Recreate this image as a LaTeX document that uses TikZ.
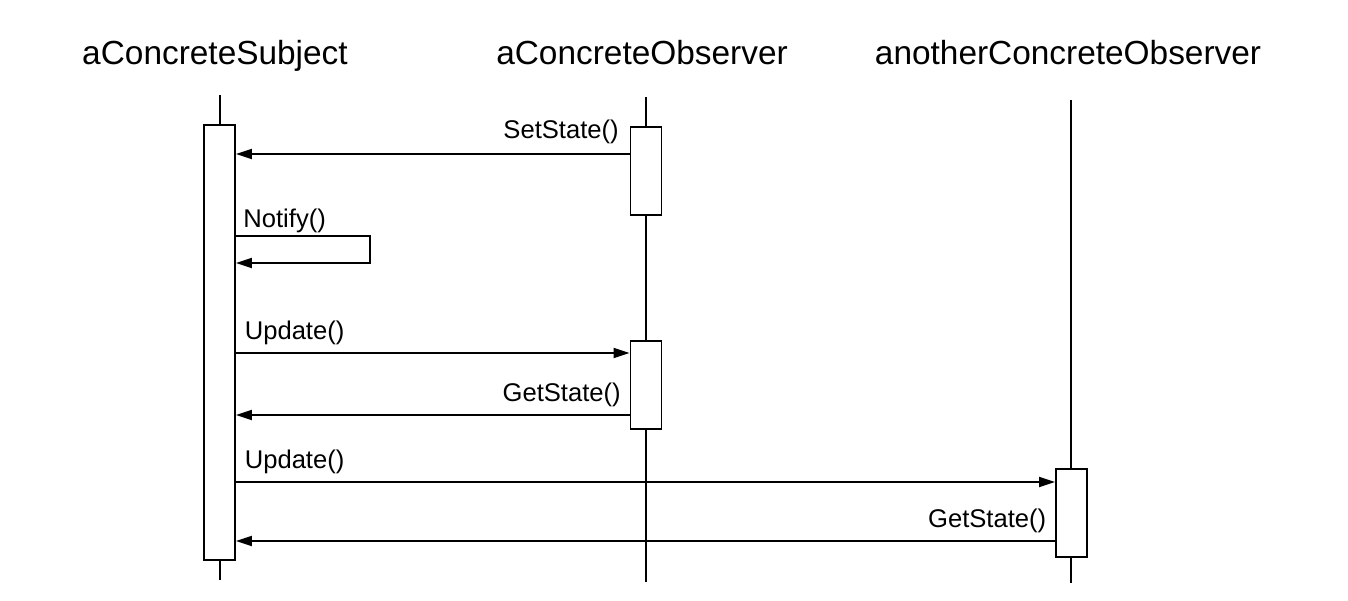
\documentclass[tikz,border=0pt]{standalone}
\usepackage{fontspec}
\setmainfont{Liberation Sans}
\usetikzlibrary{arrows.meta}

\tikzset{
	head/.style={font=\fontsize{16.7}{20}\selectfont, inner sep=0pt, anchor=base},
	lbl/.style={font=\fontsize{12.8}{15}\selectfont, inner sep=0pt},
	life/.style={line width=0.9pt},
	act/.style={draw, fill=white, line width=0.9pt, minimum width=15.5pt, inner sep=0pt},
	msg/.style={line width=0.9pt, -{Triangle[length=8pt,width=5pt]}}
}

\begin{document}
\begin{tikzpicture}[x=0.5pt, y=-0.5pt]
	\useasboundingbox (0,0) rectangle (1348,600);
	% objects
	\node[head] (HS) at (215, 64) {aConcreteSubject};
	\node[head] (HO) at (642, 64) {aConcreteObserver};
	\node[head] (HA) at (1068, 64) {anotherConcreteObserver};
	% lifelines
	\coordinate (ST) at (220, 95);  \coordinate (SB) at (220, 580);
	\coordinate (OT) at (646, 97);  \coordinate (OB) at (646, 582);
	\coordinate (AT) at (1071, 100); \coordinate (AB) at (1071, 583);
	\draw[life] (ST) -- (SB);
	\draw[life] (OT) -- (OB);
	\draw[life] (AT) -- (AB);
	% activations
	\node[act, minimum height=217.5pt] (S1) at (219.5, 342.5) {};
	\node[act, minimum height=44pt] (O1) at (646, 171) {};
	\node[act, minimum height=44pt] (O2) at (646, 385) {};
	\node[act, minimum height=44pt] (A1) at (1071.5, 513) {};
	% message levels
	\coordinate (M1) at (0, 154);
	\coordinate (NR) at (370, 236);
	\coordinate (NB) at (0, 263);
	\coordinate (M3) at (0, 353);
	\coordinate (M4) at (0, 415);
	\coordinate (M5) at (0, 482);
	\coordinate (M6) at (0, 541);
	% messages
	\draw[msg] (O1.west |- M1) -- (S1.east |- M1)
		node[lbl, at start, anchor=base east, xshift=-5pt, yshift=8pt] {SetState()};
	\draw[msg] (S1.east |- NR) -- (NR) |- (S1.east |- NB);
	\node[lbl, anchor=base west] (LN) at (243, 227) {Notify()};
	\draw[msg] (S1.east |- M3) -- (O2.west |- M3)
		node[lbl, at start, anchor=base west, xshift=4pt, yshift=7pt] {Update()};
	\draw[msg] (O2.west |- M4) -- (S1.east |- M4)
		node[lbl, at start, anchor=base east, xshift=-4pt, yshift=7pt] {GetState()};
	\draw[msg] (S1.east |- M5) -- (A1.west |- M5)
		node[lbl, at start, anchor=base west, xshift=4pt, yshift=7pt] {Update()};
	\draw[msg] (A1.west |- M6) -- (S1.east |- M6)
		node[lbl, at start, anchor=base east, xshift=-4pt, yshift=7pt] {GetState()};
\end{tikzpicture}
\end{document}
